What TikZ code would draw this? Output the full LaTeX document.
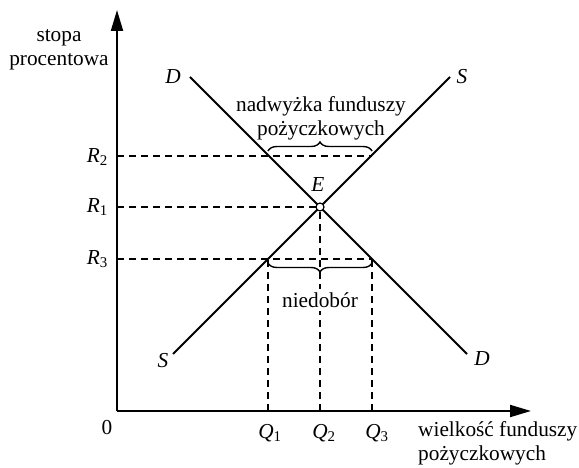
\documentclass[tikz,border=0pt]{standalone}
\usepackage{fontspec}
\setmainfont{Liberation Serif}
\usetikzlibrary{arrows.meta,decorations.pathreplacing}
\begin{document}
\begin{tikzpicture}[x=1pt,y=-1pt,
  every node/.style={font=\fontsize{21.3}{24}\selectfont, inner sep=0pt},
  axis/.style={line width=2pt,-{Triangle[length=21pt,width=12pt]}},
  curve/.style={line width=1.9pt},
  guide/.style={line width=1.4pt,dash pattern=on 7pt off 5pt},
  brc/.style={line width=1.4pt,decorate,decoration={brace,amplitude=9pt}},
  lbl/.style={font=\fontsize{21.3}{24}\selectfont\itshape}]
\useasboundingbox (0,0) rectangle (579,468);
% axes
\coordinate (O) at (117,411);
\coordinate (Ytop) at (117,10);
\coordinate (Xend) at (531,411);
\draw[axis] (O) -- (Ytop);
\draw[axis] (O) -- (Xend);
% key points
\coordinate (E) at (320,207);
\coordinate (A) at (268,156);
\coordinate (B) at (372,156);
\coordinate (C) at (268,259);
\coordinate (F) at (372,259);
\coordinate (R2) at (117,156);
\coordinate (R1) at (117,207);
\coordinate (R3) at (117,259);
\coordinate (Q1) at (268,411);
\coordinate (Q2) at (320,411);
\coordinate (Q3) at (372,411);
% guides
\draw[guide] (R2) -- (B);
\draw[guide] (R1) -- (E);
\draw[guide] (R3) -- (F);
\draw[guide] (Q1) -- (C);
\draw[guide] (Q2) -- (E);
\draw[guide] (Q3) -- (F);
% curves
\coordinate (Dt) at (190,77);
\coordinate (Db) at (467,354);
\coordinate (St) at (450,77);
\coordinate (Sb) at (173,354);
\draw[curve] (Dt) -- (Db);
\draw[curve] (Sb) -- (St);
\node[circle,draw,line width=1.2pt,fill=white,minimum size=8pt] (Ec) at (E) {};
% braces
\draw[brc] (268,151) -- (372,151);
\draw[brc] (372,263) -- (268,263);
% labels
\node[align=center] (ylab) at (59,50) {stopa\\procentowa};
\node[lbl] (Dtl) at (173,77) {D};
\node[lbl] (Stl) at (462,77) {S};
\node[lbl] (Dbl) at (482,359) {D};
\node[lbl] (Sbl) at (163,361) {S};
\node[lbl] (El) at (318,185) {E};
\node[anchor=east] (R2l) at (108,157) {\textit{R}\textsubscript{2}};
\node[anchor=east] (R1l) at (108,207) {\textit{R}\textsubscript{1}};
\node[anchor=east] (R3l) at (108,259) {\textit{R}\textsubscript{3}};
\node (Q1l) at (270,433) {\textit{Q}\textsubscript{1}};
\node (Q2l) at (324,433) {\textit{Q}\textsubscript{2}};
\node (Q3l) at (377,433) {\textit{Q}\textsubscript{3}};
\node (zero) at (107,428) {0};
\node[align=center] (nad) at (321,118) {nadwyżka funduszy\\pożyczkowych};
\node[fill=white,inner sep=3pt] (nied) at (320,300) {niedobór};
\node[align=left,anchor=north west] (xlab) at (418,421) {wielkość funduszy\\pożyczkowych};
\end{tikzpicture}
\end{document}
